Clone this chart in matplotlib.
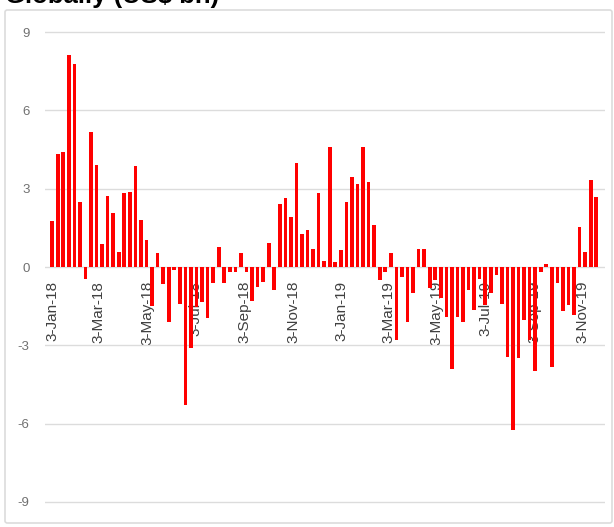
import numpy as np
import pandas as pd
import matplotlib
matplotlib.use("Agg")
import matplotlib.pyplot as plt
import matplotlib.dates as mdates
from matplotlib.patches import FancyBboxPatch

# weekly net flows, US$ bn
start_date = "2018-01-03"
flows = [
    1.75, 4.33, 4.39, 8.12, 7.78, 2.48, -0.46, 5.16, 3.90, 0.88,
    2.73, 2.06, 0.56, 2.83, 2.89, 3.85, 1.80, 1.02, -1.50, 0.54,
    -0.65, -2.10, -0.10, -1.40, -5.30, -3.10, -1.55, -1.33, -1.95, -0.60,
    0.75, -0.60, -0.20, -0.20, 0.54, -0.20, -1.30, -0.78, -0.56, 0.92,
    -0.90, 2.41, 2.63, 1.90, 4.00, 1.26, 1.43, 0.68, 2.83, 0.24,
    4.60, 0.20, 0.67, 2.50, 3.43, 3.17, 4.58, 3.26, 1.60, -0.50,
    -0.20, 0.55, -2.80, -0.40, -2.10, -1.00, 0.70, 0.70, -0.80, -0.50,
    -1.20, -1.90, -3.90, -1.90, -2.10, -0.90, -1.65, -0.45, -1.45, -1.00,
    -0.30, -1.42, -3.45, -6.25, -3.50, -2.04, -2.80, -4.00, -0.20, 0.10,
    -3.82, -0.60, -1.70, -1.46, -1.85, 1.54, 0.58, 3.33, 2.69,
]
y_ticks = [-9, -6, -3, 0, 3, 6, 9]
title = "Globally (US$ bn)"

dates = pd.date_range(start_date, periods=len(flows), freq="7D")

fig = plt.figure(figsize=(6.14, 5.27), dpi=100)
plt.rcParams["font.family"] = ["Liberation Sans", "DejaVu Sans"]

# light card frame behind the chart
frame = FancyBboxPatch((5 / 614, 4 / 527), 607 / 614, 513 / 527,
                       boxstyle="round,pad=0,rounding_size=0.004",
                       transform=fig.transFigure, facecolor="white",
                       edgecolor="#dcdcdc", linewidth=1.2, zorder=-5)
fig.patches.append(frame)

fig.text(5 / 614, 0.994, title, fontsize=18.5, fontweight="bold",
         ha="left", va="baseline")

ax = fig.add_axes([45 / 614, 12 / 527, 560 / 614, 496 / 527])
ax.patch.set_alpha(0)
ax.bar(dates, flows, width=4.6, color="#ff0000", zorder=3)

ax.set_ylim(-9.5, 9.5)
ax.set_xlim(dates[0] - pd.Timedelta(days=9), dates[-1] + pd.Timedelta(days=11))
ax.set_yticks(y_ticks)
ax.set_yticklabels([str(t) for t in y_ticks])
ax.grid(axis="y", color="#dcdcdc", linewidth=1, zorder=0)

ax.xaxis.set_major_locator(mdates.MonthLocator(bymonth=[1, 3, 5, 7, 9, 11], bymonthday=3))
ax.xaxis.set_major_formatter(mdates.DateFormatter("%-d-%b-%y"))
for s in ["top", "right", "left"]:
    ax.spines[s].set_visible(False)
ax.spines["bottom"].set_position(("data", 0))
ax.spines["bottom"].set_visible(False)
ax.tick_params(axis="x", length=0, pad=10, labelsize=11, labelcolor="#404040",
               labelrotation=90)
ax.tick_params(axis="y", length=0, pad=11, labelsize=9.5, labelcolor="#707070")

fig.savefig("out.png", dpi=100)
